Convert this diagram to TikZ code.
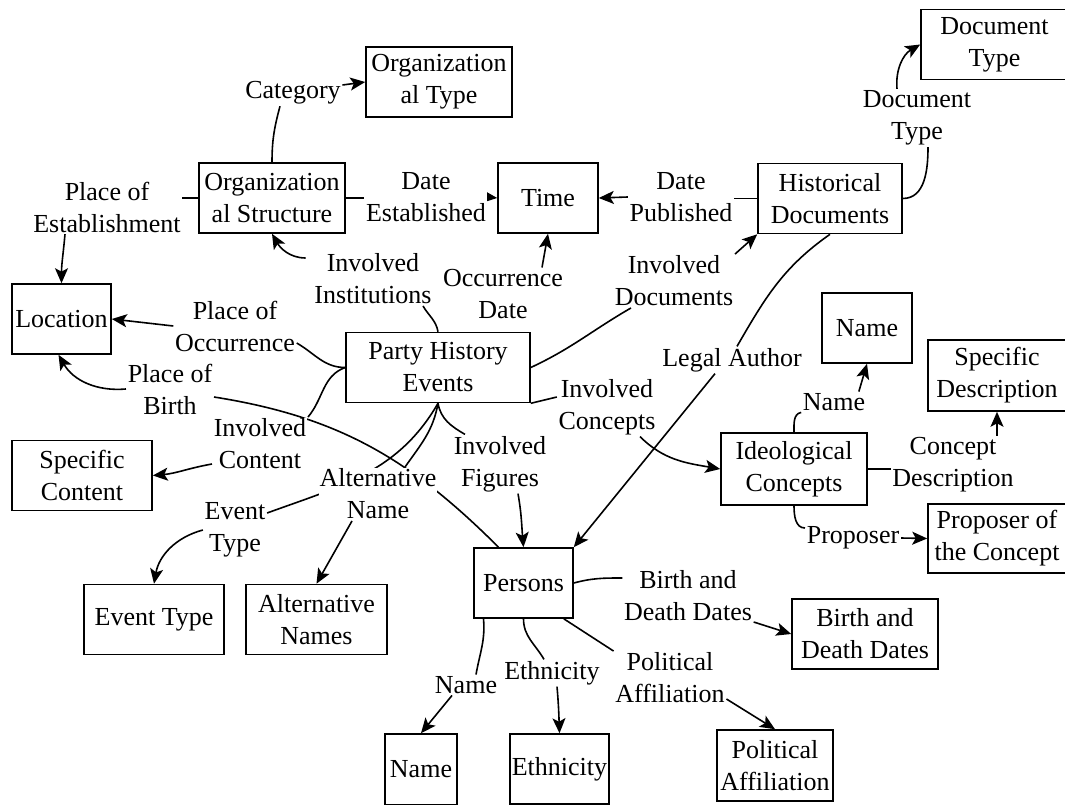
\documentclass[tikz,border=0pt]{standalone}
\usepackage{fontspec}
\setmainfont{Liberation Serif}
\usetikzlibrary{arrows.meta,backgrounds}

\begin{document}
\begin{tikzpicture}[x=1pt,y=1pt,line width=1.6pt,font=\fontsize{26}{32}\selectfont,
  box/.style={draw,align=center,inner sep=2pt,minimum height=70pt},
  lab/.style={fill=white,align=center,inner sep=1pt},
  arr/.style={-{Stealth[length=15pt,width=13pt,inset=3.5pt]}}]
\useasboundingbox (0,0) rectangle (1065,-805);
% boxes
\node[box,minimum width=146] (orgtype) at (439,-82) {Organization\\al Type};
\node[box,minimum width=146] (orgstruct) at (272,-198) {Organization\\al Structure};
\node[box,minimum width=100] (time) at (548,-198) {Time};
\node[box,minimum width=144] (histdoc) at (830,-198.5) {Historical\\Documents};
\node[box,minimum width=147] (doctype) at (994.5,-44.5) {Document\\Type};
\node[box,minimum width=99] (location) at (61.5,-319) {Location};
\node[box,minimum width=184] (phe) at (438,-367.5) {Party History\\Events};
\node[box,minimum width=140] (speccontent) at (82,-475.5) {Specific\\Content};
\node[box,minimum width=140] (eventtype) at (154,-619.5) {Event Type};
\node[box,minimum width=141] (altnames) at (316.5,-619.5) {Alternative\\Names};
\node[box,minimum width=99] (persons) at (523.5,-583) {Persons};
\node[box,minimum width=72,minimum height=71] (pname) at (421,-769.5) {Name};
\node[box,minimum width=99] (ethn) at (559.5,-769) {Ethnicity};
\node[box,minimum width=116,minimum height=71] (polaff) at (775,-765.5) {Political\\Affiliation};
\node[box,minimum width=146] (bdd) at (865,-634) {Birth and\\Death Dates};
\node[box,minimum width=90] (icname) at (867,-328) {Name};
\node[box,minimum width=146,minimum height=72] (ideo) at (794,-469) {Ideological\\Concepts};
\node[box,minimum width=138,minimum height=71] (specdesc) at (997,-375.5) {Specific\\Description};
\node[box,minimum width=138,minimum height=69] (proposer) at (997,-538.5) {Proposer of\\the Concept};
% labels
\node[lab] (lcat) at (293,-93) {Category};
\node[lab] (lplaceest) at (107,-207) {Place of\\Establishment};
\node[lab] (ldateest) at (426,-197) {Date\\Established};
\node[lab] (ldatepub) at (681,-197) {Date\\Published};
\node[lab] (ldoctype) at (917,-118) {Document\\Type};
\node[lab] (linst) at (373,-279) {Involved\\Institutions};
\node[lab] (loccdate) at (503,-294) {Occurrence\\Date};
\node[lab] (linvdoc) at (674,-281) {Involved\\Documents};
\node[lab] (lplaceocc) at (235,-326) {Place of\\Occurrence};
\node[lab] (lplacebirth) at (170,-389) {Place of\\Birth};
\node[lab] (linvcontent) at (260,-444) {Involved\\Content};
\node[lab] (leventtype) at (235,-530) {Event\\Type};
\node[lab] (laltname) at (378,-494) {Alternative\\Name};
\node[lab] (linvfig) at (500,-464) {Involved\\Figures};
\node[lab] (linvconc) at (607,-407) {Involved\\Concepts};
\node[lab] (llegal) at (732,-360) {Legal Author};
\node[lab] (licname) at (834,-402) {Name};
\node[lab] (lconcdesc) at (953,-465) {Concept\\Description};
\node[lab] (lproposer) at (853,-538) {Proposer};
\node[lab] (lbdd) at (688,-596) {Birth and\\Death Dates};
\node[lab] (lpolaff) at (670,-678) {Political\\Affiliation};
\node[lab] (lethn) at (552,-673) {Ethnicity};
\node[lab] (lpname) at (466,-685) {Name};
% connectors
\begin{scope}[on background layer={line width=1.6pt}]
\draw (orgstruct.north) to[out=90,in=-105] ([xshift=-13pt]lcat.south);
\draw[arr] ([yshift=8pt]lcat.east) -- (orgtype.west);
\draw (orgstruct.west) -- (orgstruct.west -| lplaceest.east);
\draw[arr] ([xshift=-42pt]lplaceest.south) to[out=-95,in=90] (location.north);
\draw (orgstruct.east) -- (orgstruct.east -| ldateest.west);
\draw[arr] (ldateest.east) -- (time.west);
\draw (histdoc.west) -- (histdoc.west -| ldatepub.east);
\draw[arr] (ldatepub.west) -- (time.east);
\draw (histdoc.east) to[out=0,in=-90] ([xshift=11pt]ldoctype.south);
\draw[arr] ([xshift=-20pt]ldoctype.north) to[out=95,in=-150] (doctype.west);
\draw (phe.north) to[out=100,in=-60] ([xshift=50pt]linst.south);
\draw[arr] ([shift={(-7pt,21pt)}]linst.west) to[out=180,in=-60] (orgstruct.south);
\draw[arr] ([xshift=39pt]loccdate.north) -- (time.south);
\draw (phe.east) to[out=25,in=-150] ([xshift=-43pt]linvdoc.south);
\draw[arr] (linvdoc.north east) -- (histdoc.south west);
\draw (histdoc.south) to[out=-145,in=60] ([xshift=5pt]llegal.north);
\draw[arr] ([xshift=-17pt]llegal.south) -- (persons.north east);
\draw (phe.west) to[out=180,in=-30] ([yshift=-17pt]lplaceocc.east);
\draw[arr] (lplaceocc.west) -- (location.east);
\draw (phe.west) to[out=200,in=50] (linvcontent.north east);
\draw[arr] ([yshift=-20pt]linvcontent.west) to[out=190,in=5] (speccontent.east);
\draw (phe.south) to[out=-120,in=20] ([yshift=17pt]leventtype.east);
\draw[arr] (leventtype.west) to[out=195,in=80] (eventtype.north);
\draw (phe.south) to[out=-100,in=55] ([xshift=27pt]laltname.north);
\draw[arr] ([xshift=-26pt]laltname.south) -- (altnames.north);
\draw (phe.south) to[out=-80,in=150] ([xshift=-35pt]linvfig.north);
\draw[arr] ([xshift=18pt]linvfig.south) to[out=-80,in=95] (persons.north);
\draw (phe.south east) -- ([yshift=10pt]linvconc.west);
\draw[arr] ([xshift=33pt]linvconc.south) to[out=-45,in=170] (ideo.west);
\draw ([xshift=-25pt]persons.north) to[out=135,in=-9] ([yshift=-8pt]lplacebirth.east);
\draw[arr] (lplacebirth.west) to[out=185,in=-60] ([xshift=-3pt]location.south);
\draw (ideo.north) to[out=90,in=190] (licname.south west);
\draw[arr] ([xshift=-8pt]licname.north east) -- (icname.south);
\draw (ideo.east) -- (ideo.east -| lconcdesc.west);
\draw[arr] (lconcdesc.north -| specdesc.south) -- (specdesc.south);
\draw (ideo.south) to[out=-90,in=180] ([yshift=10pt]lproposer.west);
\draw[arr] (lproposer.east) -- (proposer.west);
\draw (persons.east) to[out=15,in=180] ([yshift=18pt]lbdd.west);
\draw[arr] ([yshift=-26pt]lbdd.east) -- (bdd.west);
\draw ([xshift=-10pt]persons.south east) -- (lpolaff.north west);
\draw[arr] ([yshift=-21pt]lpolaff.east) -- (polaff.north);
\draw (persons.south) to[out=-90,in=120] ([xshift=-8pt]lethn.north);
\draw[arr] ([xshift=5pt]lethn.south) to[out=-85,in=92] (ethn.north);
\draw ([xshift=-40pt]persons.south) to[out=-85,in=80] ([xshift=10pt]lpname.north);
\draw[arr] ([xshift=-14pt]lpname.south) -- (pname.north);
\end{scope}
\end{tikzpicture}
\end{document}
